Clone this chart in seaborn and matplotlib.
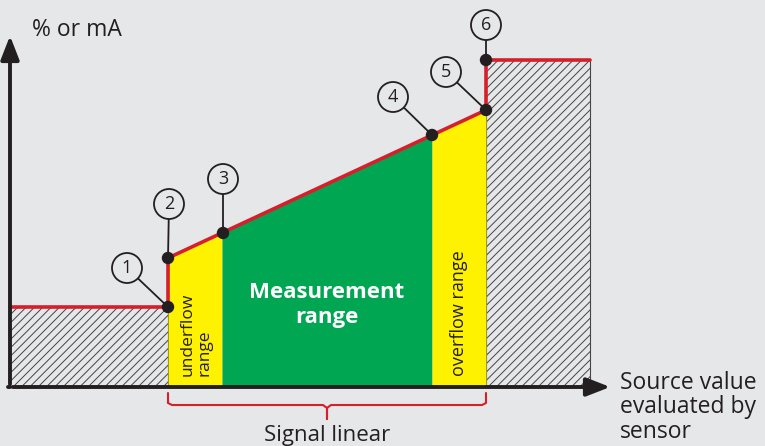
import numpy as np
import pandas as pd
import seaborn as sns
import matplotlib.pyplot as plt
from matplotlib.patches import Circle, FancyArrowPatch

# source value breakpoints (arbitrary units) and signal levels
x_start, x_under, x_meas_lo, x_meas_hi, x_over, x_end = 0, 158, 212, 422, 476, 580
sig_under = 80
sig_lo = 129
sig_hi = 277
sig_over = 327

# red signal curve
curve_x = [x_start, x_under, x_under, x_over, x_over, x_end]
curve_y = [sig_under, sig_under, sig_lo, sig_hi, sig_over, sig_over]

# numbered points and their label circles
point_ids = ['1', '2', '3', '4', '5', '6']
point_x = [158, 158, 213, 422, 476, 476]
point_y = [80, 129, 154, 252, 277, 327]
label_x = [117, 159, 213, 383, 436, 476]
label_y = [119, 183, 208, 290, 315, 362]

bg = '#e6e7e8'
red = '#d61f2b'
yellow = '#fff200'
green = '#00a651'
dark = '#231f20'

sns.set_theme(style='white', rc={'figure.facecolor': bg, 'axes.facecolor': bg,
                                 'hatch.linewidth': 0.7})
plt.rcParams['font.family'] = ['Open Sans', 'DejaVu Sans']

fig = plt.figure(figsize=(7.65, 4.46), dpi=100)
ax = fig.add_axes([0, 0, 1, 1])
ax.set_xlim(-10, 755)
ax.set_ylim(-59, 387)
ax.axis('off')

# hatched out-of-range areas
ax.fill_between([x_start, x_under], 0, sig_under, facecolor=bg, edgecolor='#444444',
                hatch='////', linewidth=0.8)
ax.fill_between([x_over, x_end], 0, sig_over, facecolor=bg, edgecolor='#444444',
                hatch='////', linewidth=0.8)

# underflow / measurement / overflow bands below the curve
def line_at(x):
    return sig_lo + (sig_hi - sig_lo) * (x - x_under) / (x_over - x_under)

xs = np.array([x_under, x_meas_lo])
ax.fill_between(xs, 0, line_at(xs), color=yellow, linewidth=0)
xs = np.array([x_meas_lo, x_meas_hi])
ax.fill_between(xs, 0, line_at(xs), color=green, linewidth=0)
xs = np.array([x_meas_hi, x_over])
ax.fill_between(xs, 0, line_at(xs), color=yellow, linewidth=0)

# red signal line
curve = pd.DataFrame({'x': curve_x, 'y': curve_y})
sns.lineplot(data=curve, x='x', y='y', sort=False, estimator=None, color=red,
             linewidth=2.6, ax=ax, zorder=4)

# leader lines and numbered circles
r = 15
for pid, px, py, lx, ly in zip(point_ids, point_x, point_y, label_x, label_y):
    dx, dy = px - lx, py - ly
    d = np.hypot(dx, dy)
    ax.plot([lx + dx / d * r, px], [ly + dy / d * r, py], color=dark, lw=1.3, zorder=5)
    ax.add_patch(Circle((lx, ly), r, facecolor=bg, edgecolor=dark, lw=1.3, zorder=5))
    ax.text(lx, ly, pid, ha='center', va='center', fontsize=13, color=dark, zorder=6)

points = pd.DataFrame({'x': point_x, 'y': point_y})
sns.scatterplot(data=points, x='x', y='y', color=dark, s=80, edgecolor='none', ax=ax, zorder=7)

# axes with arrows
ax.add_patch(FancyArrowPatch((0, 0), (0, 354), arrowstyle='-|>,head_length=9,head_width=3.5',
                             color=dark, lw=2.8, mutation_scale=1.6, zorder=8))
ax.add_patch(FancyArrowPatch((0, 0), (603, 0), arrowstyle='-|>,head_length=9,head_width=3.5',
                             color=dark, lw=2.8, mutation_scale=1.6, zorder=8))
ax.plot([-2, 0], [0, 0], color=dark, lw=2.8)

# brace for linear signal
mid = (x_under + x_over) / 2
bx = [x_under, x_under, x_under + 4, mid - 4, mid, mid, mid, mid + 4, x_over - 4, x_over, x_over]
by = [-6, -16, -18, -18, -21, -32, -21, -18, -18, -16, -6]
ax.plot(bx, by, color=red, lw=1.5, solid_joinstyle='round')

# texts
ax.text(22, 357, '% or mA', fontsize=16.5, color=dark, ha='left', va='center')
ax.text((x_meas_lo + x_meas_hi) / 2, 82, 'Measurement\nrange', fontsize=16, color='white',
        fontweight='bold', ha='center', va='center', linespacing=1.3)
ax.text((x_under + x_meas_lo) / 2 + 1, 53, 'underflow\nrange', fontsize=12.5, color=dark,
        rotation=90, ha='center', va='center', linespacing=1.1, multialignment='left')
ax.text((x_meas_hi + x_over) / 2, 74, 'overflow range', fontsize=13, color=dark,
        rotation=90, ha='center', va='center')
ax.text(610, 16, 'Source value\nevaluated by\nsensor', fontsize=16.5, color=dark,
        ha='left', va='top', linespacing=1.02)
ax.text(mid, -48, 'Signal linear', fontsize=16, color=dark, ha='center', va='center')

fig.savefig('out.png', dpi=100, facecolor=bg)
